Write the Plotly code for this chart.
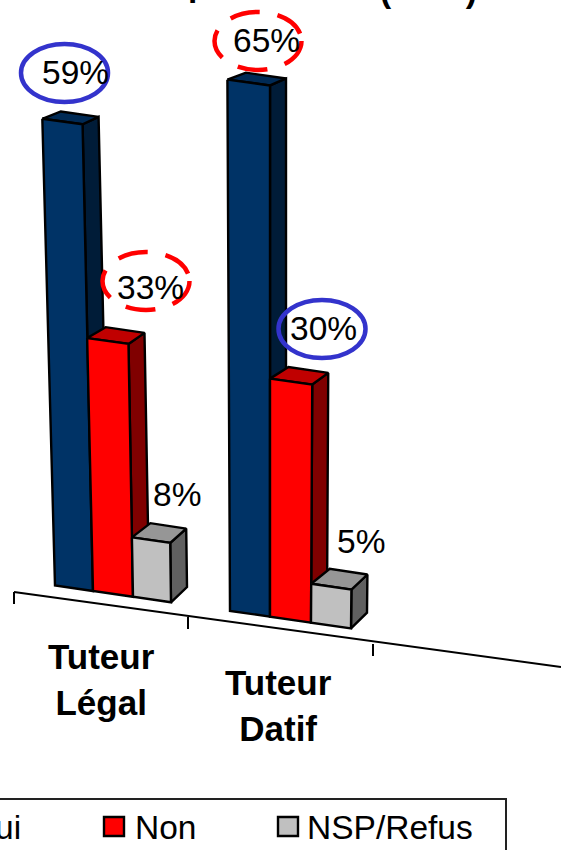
import plotly.graph_objects as go

categories = ["Tuteur<br>Légal", "Tuteur<br>Datif"]
series_names = ["Oui", "Non", "NSP/Refus"]
oui = [59, 65]
non = [33, 30]
nsp = [8, 5]
series_values = [oui, non, nsp]
highlight = {(0, 0): "solid", (0, 1): "dash", (1, 0): "dash", (1, 1): "solid"}

W, H = 561, 850
FRONT = ["#003366", "#ff0000", "#c0c0c0"]
TOP = ["#002a55", "#c00000", "#969696"]
SIDE = ["#001c38", "#800000", "#606060"]
BAR_EDGES = [[55, 93, 133, 171], [230, 270, 311, 351]]
GROUP_SCALE = [(7.35, 0.0095), (7.73, 0.0068)]
LABEL_POS = [[(75, 72), (150, 287), (177, 494)], [(266, 40), (323, 328), (361, 541)]]
RING_SHIFT = {(0, 0): (-10.5, 1), (1, 0): (-4, -6), (0, 1): (-8, 1), (1, 1): (-1, 1)}
CAT_POS = [(101, 679), (278, 705)]


def base_y(x):
    return 577.5 + 0.145 * x


def lift(x, v, g):
    a, b = GROUP_SCALE[g]
    return x - (270 - x) * 0.001 * v, base_y(x) - v * (a + b * v)


def depth(y, dx):
    return dx, -(7 + max(y - 100, 0) * 0.0165)


def face(fig, pts, color):
    xs = [p[0] for p in pts] + [pts[0][0]]
    ys = [p[1] for p in pts] + [pts[0][1]]
    fig.add_trace(go.Scatter(x=xs, y=ys, mode="lines", fill="toself", fillcolor=color,
                             line=dict(color="black", width=2.4), hoverinfo="skip", showlegend=False))


fig = go.Figure()

for g in range(len(categories)):
    for s in range(len(series_names)):
        v = series_values[s][g]
        x0, x1 = BAR_EDGES[g][s], BAR_EDGES[g][s + 1]
        bl, br = (x0, base_y(x0)), (x1, base_y(x1))
        tl, tr = lift(x0, v, g), lift(x1, v, g)
        dl, dr = depth(tl[1], 18.5), depth(tr[1], 16)
        db = depth(br[1], 16)
        face(fig, [tr, (tr[0] + dr[0], tr[1] + dr[1]), (br[0] + db[0], br[1] + db[1]), br], SIDE[s])
        face(fig, [tl, (tl[0] + dl[0], tl[1] + dl[1]), (tr[0] + dr[0], tr[1] + dr[1]), tr], TOP[s])
        face(fig, [tl, tr, br, bl], FRONT[s])

shapes = []
annotations = []


def text(x, y, s, bold=False, xanchor="center", yanchor="middle", size=33.5):
    annotations.append(dict(x=x, y=y, xref="x", yref="y", text=f"<b>{s}</b>" if bold else s,
                            showarrow=False, xanchor=xanchor, yanchor=yanchor,
                            font=dict(family="Liberation Sans", size=size, color="black"),
                            borderpad=0, borderwidth=0))


# Value labels and their hand-drawn rings
for g in range(len(categories)):
    for s in range(len(series_names)):
        cx, cy = LABEL_POS[g][s]
        text(cx, cy, f"{series_values[s][g]}%")
        style = highlight.get((s, g))
        if style:
            ox, oy = RING_SHIFT[(s, g)]
            ring = dict(type="circle", xref="x", yref="y", x0=cx + ox - 43.5, x1=cx + ox + 43.5,
                        y0=cy + oy - 29, y1=cy + oy + 29, layer="above")
            if style == "solid":
                ring["line"] = dict(color="#3333cc", width=4.5)
            else:
                ring["line"] = dict(color="#ff0000", width=4.5, dash="30px,18px")
            shapes.append(ring)

# Category axis
shapes.append(dict(type="line", xref="x", yref="y", x0=14, y0=592, x1=561, y1=667,
                   line=dict(color="black", width=2)))
for tx, ty in [(14, 592), (188, 617), (373, 644)]:
    shapes.append(dict(type="line", xref="x", yref="y", x0=tx, y0=ty, x1=tx, y1=ty + 12,
                       line=dict(color="black", width=2)))
for c, (cx, cy) in zip(categories, CAT_POS):
    text(cx, cy, c, bold=True, size=35)

# Legend (cropped by the page on the left and at the bottom)
shapes.append(dict(type="rect", xref="x", yref="y", x0=-20, x1=506, y0=799, y1=880,
                   line=dict(color="#222222", width=2)))
for color, sx in [(FRONT[1], 104), (FRONT[2], 278)]:
    shapes.append(dict(type="rect", xref="x", yref="y", x0=sx, x1=sx + 20, y0=817, y1=836,
                       fillcolor=color, line=dict(color="black", width=2.4)))
text(21, 827, series_names[0], xanchor="right")
text(135, 827, series_names[1], xanchor="left")
text(307, 827, series_names[2], xanchor="left")

# Title: only the very bottom of its glyphs shows at the top edge of the crop
text(198, 3, "<b>p</b>", yanchor="bottom")
text(428, 9, "<b>(</b>        <b>)</b>", yanchor="bottom")

fig.update_layout(
    width=W, height=H, margin=dict(l=0, r=0, t=0, b=0),
    paper_bgcolor="white", plot_bgcolor="white", showlegend=False,
    xaxis=dict(range=[0, W], visible=False, fixedrange=True),
    yaxis=dict(range=[H, 0], visible=False, fixedrange=True),
    shapes=shapes, annotations=annotations,
)
fig.write_html("out.html", config={"displayModeBar": False},
               post_script="document.body.style.margin='0';document.body.style.overflow='hidden';")
